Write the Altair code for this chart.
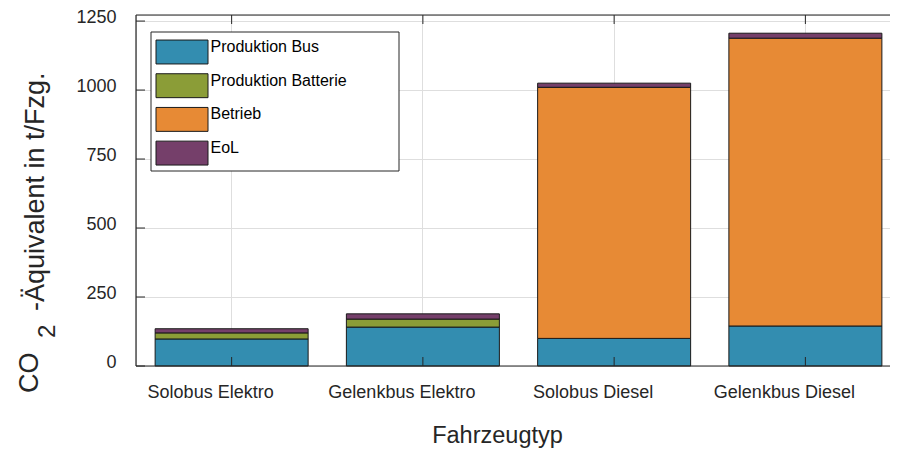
import altair as alt
import pandas as pd

# ---------------- data ----------------
categories = ["Solobus Elektro", "Gelenkbus Elektro", "Solobus Diesel", "Gelenkbus Diesel"]
components = ["Produktion Bus", "Produktion Batterie", "Betrieb", "EoL"]
produktion_bus = [98, 141, 100, 145]
produktion_batterie = [22, 29, 0, 0]
betrieb = [0, 0, 910, 1043]
eol = [15, 19, 15, 18]
colors = ["#338DB0", "#8B9D37", "#E78A35", "#753F6A"]
y_ticks = [0, 250, 500, 750, 1000, 1250]
y_max = 1272
x_title = "Fahrzeugtyp"
y_title_parts = ["CO", "2", "-Äquivalent in t/Fzg."]

rows = []
for ci, vals in enumerate([produktion_bus, produktion_batterie, betrieb, eol]):
    for cat, v in zip(categories, vals):
        rows.append({"Fahrzeugtyp": cat, "Komponente": components[ci], "idx": ci, "Wert": v})
df = pd.DataFrame(rows)

# ---------------- style ----------------
W, H = 754, 351          # drawn area that fits in the page
XR = 765                 # full axis length (right part runs off the page)
AX = "#262626"
GRID = "#dedede"
FONT = "Liberation Sans"

x_axis = alt.Axis(
    title=x_title, grid=True, gridColor=GRID, gridWidth=1, domain=False,
    ticks=False, tickSize=0, labelFont=FONT, labelFontSize=18, labelColor=AX,
    labelPadding=31, labelBaseline="alphabetic", labelOffset=-21, labelAngle=0,
    labelOverlap=False,
    titleFont=FONT, titleFontSize=23.5, titleColor=AX, titleFontWeight="normal",
    titleX=361, titleY=76, titleBaseline="alphabetic", titleAlign="center",
)
y_axis = alt.Axis(
    values=y_ticks, format="d", title=None, grid=True, gridColor=GRID, gridWidth=1,
    domain=False, ticks=False, tickSize=0, labelFont=FONT, labelFontSize=18,
    labelColor=AX, labelPadding=20, labelOffset=-4, labelAlign="right",
    labelBaseline="middle",
)
x_scale = alt.Scale(domain=categories, paddingInner=0.2, paddingOuter=0.1, range=[0, XR])
y_scale = alt.Scale(domain=[0, y_max], nice=False, zero=True)

x_enc = alt.X("Fahrzeugtyp:N", sort=categories, scale=x_scale, axis=x_axis)

legend = alt.Legend(
    title=None, orient="none", legendX=20, legendY=23.5, direction="vertical",
    columns=1, padding=0, symbolType="M-2,-0.92H2V0.92H-2Z", symbolSize=676,
    symbolStrokeColor="#1a1a1a", symbolStrokeWidth=1, symbolOpacity=1,
    symbolOffset=12.5, labelOffset=15, labelFont=FONT, labelFontSize=16,
    labelColor="#000000", labelBaseline="alphabetic", rowPadding=4.7,
)

# legend frame (drawn under the legend, over the grid)
legend_box = alt.Chart(pd.DataFrame({"a": [0]})).mark_rect(
    fill="white", stroke=AX, strokeWidth=1
).encode(x=alt.value(15), x2=alt.value(263), y=alt.value(17), y2=alt.value(156))

bars = alt.Chart(df).transform_filter("datum.Wert > 0").mark_bar(
    stroke="#1a1a1a", strokeWidth=1, opacity=1
).encode(
    x=x_enc,
    y=alt.Y("Wert:Q", stack="zero", scale=y_scale, axis=y_axis),
    color=alt.Color("Komponente:N", scale=alt.Scale(domain=components, range=colors), legend=legend),
    order=alt.Order("idx:Q", sort="ascending"),
)

tick_y = pd.DataFrame({"Wert": y_ticks})
tick_x = pd.DataFrame({"Fahrzeugtyp": categories})
TL = 9
left_ticks = alt.Chart(tick_y).mark_rule(color=AX, strokeWidth=1).encode(
    y=alt.Y("Wert:Q", scale=y_scale, axis=y_axis), x=alt.value(0), x2=alt.value(TL))
bottom_ticks = alt.Chart(tick_x).mark_rule(color=AX, strokeWidth=1).encode(
    x=x_enc, y=alt.value(H - TL), y2=alt.value(H))
top_ticks = alt.Chart(tick_x).mark_rule(color=AX, strokeWidth=1).encode(
    x=x_enc, y=alt.value(0), y2=alt.value(TL))

# axes box: left, bottom and top edges (the right edge lies beyond the page)
frame = pd.DataFrame({"a": [0]})
left_line = alt.Chart(frame).mark_rule(color=AX, strokeWidth=1.2).encode(
    x=alt.value(0), y=alt.value(0), y2=alt.value(H))
bottom_line = alt.Chart(frame).mark_rule(color=AX, strokeWidth=1.2).encode(
    x=alt.value(0), x2=alt.value(W), y=alt.value(H))
top_line = alt.Chart(frame).mark_rule(color=AX, strokeWidth=1.2).encode(
    x=alt.value(0), x2=alt.value(W), y=alt.value(0))

t_co = alt.Chart(pd.DataFrame({"t": [y_title_parts[0]]})).mark_text(
    angle=270, align="left", baseline="alphabetic", font=FONT, fontSize=27, color=AX
).encode(text="t:N", x=alt.value(-98), y=alt.value(378))
t_sub = alt.Chart(pd.DataFrame({"t": [y_title_parts[1]]})).mark_text(
    angle=270, align="left", baseline="alphabetic", font=FONT, fontSize=24, color=AX
).encode(text="t:N", x=alt.value(-81), y=alt.value(323))
t_rest = alt.Chart(pd.DataFrame({"t": [y_title_parts[2]]})).mark_text(
    angle=270, align="left", baseline="alphabetic", font=FONT, fontSize=27, color=AX
).encode(text="t:N", x=alt.value(-92), y=alt.value(296))

chart = alt.layer(
    legend_box, bars, left_ticks, bottom_ticks, top_ticks,
    left_line, bottom_line, top_line, t_co, t_sub, t_rest,
).properties(
    width=W, height=H,
    padding={"left": 128, "top": 7, "right": 0, "bottom": 83},
    autosize=alt.AutoSizeParams(type="none"),
).configure_view(stroke=None).configure(background="white")

chart.save("out.html", embed_options={"renderer": "svg", "actions": False})
